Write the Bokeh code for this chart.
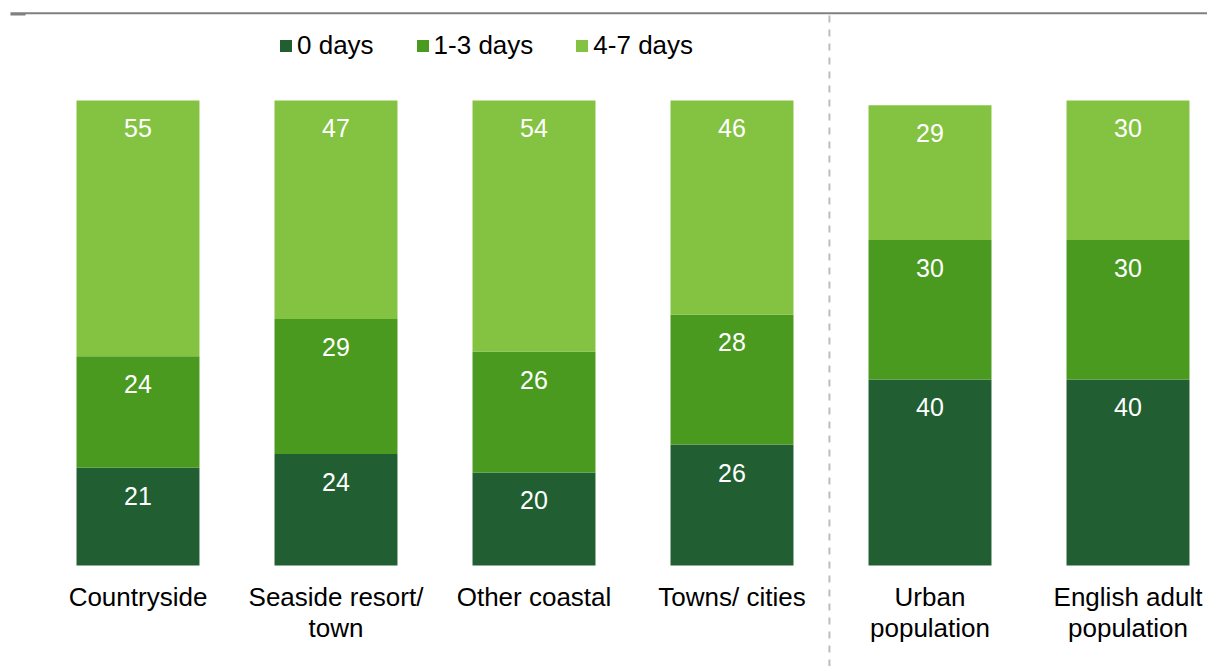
from bokeh.plotting import figure
from bokeh.models import ColumnDataSource, Legend, LegendItem, Range1d
from bokeh.core.properties import value
from bokeh.embed import file_html
from bokeh.resources import INLINE

categories = ["Countryside", "Seaside resort/\ntown", "Other coastal", "Towns/ cities",
              "Urban\npopulation", "English adult\npopulation"]
days_0 = [21, 24, 20, 26, 40, 40]
days_1_3 = [24, 29, 26, 28, 30, 30]
days_4_7 = [55, 47, 54, 46, 29, 30]
series_names = ["0 days", "1-3 days", "4-7 days"]
colors = ["#215F32", "#4A9A20", "#83C341"]

FONT = "Liberation Sans"
W, H = 1207, 666

x = list(range(len(categories)))
t1 = list(days_0)
t2 = [a + b for a, b in zip(days_0, days_1_3)]
t3 = [a + b + c for a, b, c in zip(days_0, days_1_3, days_4_7)]

src = ColumnDataSource(dict(
    x=x, cat=categories,
    b0=[0] * len(x), t0=t1, b2=t1, t2=t2, b3=t2, t3=t3,
    l0=[str(v) for v in days_0], l1=[str(v) for v in days_1_3], l2=[str(v) for v in days_4_7],
    y0=[t - 6.0 for t in t1], y1=[t - 6.0 for t in t2], y2=[t - 6.0 for t in t3],
    ycat=[-3.6] * len(x),
))

p = figure(width=W, height=H, output_backend="svg", toolbar_location=None,
           x_range=Range1d(-0.6944, 5.4015), y_range=Range1d(-21.72, 121.51),
           min_border=0, outline_line_color=None)
p.axis.visible = False
p.grid.visible = False
p.background_fill_color = "white"

bw = 0.621
r0 = p.vbar(x="x", bottom="b0", top="t0", width=bw, source=src, fill_color=colors[0], line_color=None)
r1 = p.vbar(x="x", bottom="b2", top="t2", width=bw, source=src, fill_color=colors[1], line_color=None)
r2 = p.vbar(x="x", bottom="b3", top="t3", width=bw, source=src, fill_color=colors[2], line_color=None)

for ycol, lcol in [("y0", "l0"), ("y1", "l1"), ("y2", "l2")]:
    p.text(x="x", y=ycol, text=lcol, source=src, text_color="white",
           text_font=value(FONT), text_font_size="25px",
           text_align="center", text_baseline="middle")

p.text(x="x", y="ycat", text="cat", source=src, text_color="#000000",
       text_font=value(FONT), text_font_size="26px", text_line_height=1.03,
       text_align="center", text_baseline="top")

# top rule, small left tick and dashed divider
p.segment(x0=[-0.644], x1=[5.4015], y0=[118.75], y1=[118.75], line_color="#808080", line_width=2)
p.segment(x0=[-0.644], x1=[-0.568], y0=[118.45], y1=[118.45], line_color="#808080", line_width=1.5)
p.segment(x0=[3.492], x1=[3.492], y0=[118.3], y1=[-21.72], line_color="#BDBDBD",
          line_width=2, line_dash="7 7")

legend = Legend(items=[LegendItem(label=series_names[0], renderers=[r0]),
                       LegendItem(label=series_names[1], renderers=[r1]),
                       LegendItem(label=series_names[2], renderers=[r2])],
                orientation="horizontal", location=(278, 605),
                glyph_width=15, glyph_height=15, label_standoff=4, spacing=41,
                padding=0, margin=0, border_line_color=None, background_fill_alpha=0,
                label_text_font=FONT, label_text_font_size="26px", label_text_color="#000000",
                label_height=30)
p.add_layout(legend, "center")

open("out.html", "w").write(file_html(p, INLINE))
